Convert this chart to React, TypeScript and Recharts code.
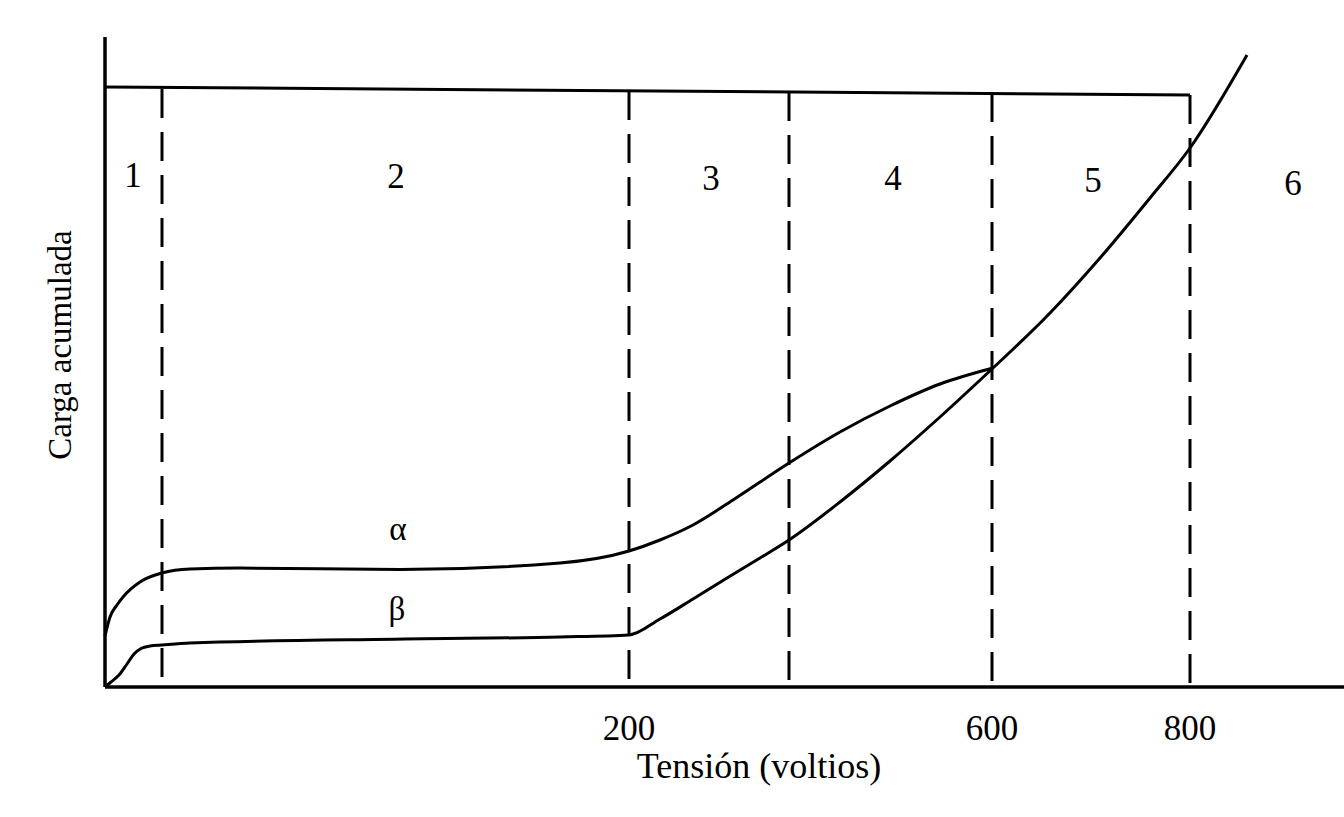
import { LineChart, Line, XAxis, YAxis, ReferenceLine, ReferenceDot } from 'recharts'

// schematic position units along the axis (not volts): the original axis isn't linear
const alphaPoints = [
  { x: 0, y: 5.1 }, { x: 0.5, y: 7.0 }, { x: 1.2, y: 8.2 }, { x: 1.8, y: 9.0 },
  { x: 3.5, y: 10.5 }, { x: 5.7, y: 11.4 }, { x: 8.5, y: 11.8 }, { x: 13.5, y: 11.9 },
  { x: 29.5, y: 11.75 }, { x: 45.5, y: 12.4 }, { x: 52.4, y: 13.6 }, { x: 55.5, y: 14.7 },
  { x: 58.8, y: 16.2 }, { x: 62.8, y: 18.7 }, { x: 68.4, y: 22.4 }, { x: 73.5, y: 25.5 },
  { x: 78.5, y: 28.1 }, { x: 83.5, y: 30.3 }, { x: 88.8, y: 31.9 },
]
const betaPoints = [
  { x: 0, y: 0 }, { x: 0.6, y: 0.5 }, { x: 1.4, y: 1.2 }, { x: 2.2, y: 2.3 },
  { x: 2.9, y: 3.3 }, { x: 3.6, y: 3.85 }, { x: 4.5, y: 4.1 }, { x: 5.7, y: 4.2 },
  { x: 8.5, y: 4.4 }, { x: 30, y: 4.8 }, { x: 45.5, y: 5.0 }, { x: 52.4, y: 5.2 },
  { x: 55.5, y: 6.8 }, { x: 58.8, y: 8.8 }, { x: 62.2, y: 10.9 }, { x: 65.5, y: 12.9 },
  { x: 68.4, y: 14.7 }, { x: 73.5, y: 18.5 }, { x: 78.5, y: 22.6 }, { x: 83.5, y: 27.0 },
  { x: 88.8, y: 31.9 },
]
// both curves merge above 600 V
const tailPoints = [
  { x: 88.8, y: 31.9 }, { x: 94.5, y: 37.4 }, { x: 99.5, y: 42.9 },
  { x: 104.5, y: 48.9 }, { x: 108.5, y: 53.9 }, { x: 114.2, y: 63.2 },
]

const boundaries = [5.7, 52.4, 68.4, 88.7, 108.5]
const boundaryTops = [59.8, 59.6, 59.5, 59.4, 59.2]
const tickPositions = [52.4, 88.7, 108.5]
const tickLabels = ['200', '600', '800']
const regionLabels = ['1', '2', '3', '4', '5', '6']
const regionX = [2.8, 29.1, 60.6, 78.8, 98.8, 118.8]
const regionY = [51.2, 51.1, 50.9, 50.9, 50.7, 50.4]
const curveNames = ['α', 'β']
const curveLabelX = [29.3, 29.2]
const curveLabelY = [15.9, 7.9]

const FONT = '"Liberation Serif", "Times New Roman", serif'

export default function App() {
  return (
    <div style={{ position: 'absolute', left: 0, top: 0, background: '#fff' }}>
      <LineChart
        width={1345}
        height={817}
        margin={{ top: 37, right: 0, bottom: 30, left: 45 }}
        style={{ fontFamily: FONT }}
      >
        <XAxis
          type="number"
          dataKey="x"
          domain={[0, 124]}
          ticks={tickPositions}
          tickFormatter={(v: number) => tickLabels[tickPositions.indexOf(v)] ?? ''}
          tickLine={false}
          tickSize={0}
          tickMargin={28}
          height={100}
          axisLine={{ stroke: '#000', strokeWidth: 3.5 }}
          tick={{ fill: '#000', fontSize: 35, fontFamily: FONT }}
          label={{
            content: (props: any) => {
              const vb = props.viewBox
              return (
                <text x={vb.x + vb.width / 2 + 34} y={vb.y + 91} textAnchor="middle"
                  fontSize={36} fontFamily={FONT} fill="#000">
                  Tensión (voltios)
                </text>
              )
            },
          }}
        />
        <YAxis
          type="number"
          domain={[0, 65]}
          width={60}
          tick={false}
          tickLine={false}
          axisLine={{ stroke: '#000', strokeWidth: 3.5 }}
          label={{
            content: (props: any) => {
              const vb = props.viewBox
              const cx = vb.x + vb.width - 42
              const cy = vb.y + vb.height / 2 - 17
              return (
                <text x={cx} y={cy} transform={`rotate(-90 ${cx} ${cy})`} textAnchor="middle"
                  dominantBaseline="middle" fontSize={33} fontFamily={FONT} fill="#000">
                  Carga acumulada
                </text>
              )
            },
          }}
        />

        <ReferenceLine
          segment={[{ x: 0, y: 60.0 }, { x: boundaries[4], y: 59.2 }]}
          stroke="#000"
          strokeWidth={3}
        />
        {boundaries.map((b, i) => (
          <ReferenceLine
            key={`b-${i}`}
            segment={[{ x: b, y: boundaryTops[i] }, { x: b, y: 0 }]}
            stroke="#000"
            strokeWidth={3}
            strokeDasharray="29 14"
          />
        ))}

        {regionLabels.map((r, i) => (
          <ReferenceDot key={`r-${i}`} x={regionX[i]} y={regionY[i]} r={0} stroke="none"
            label={{ value: r, position: 'center', fontSize: 35, fill: '#000', fontFamily: FONT }} />
        ))}
        {curveNames.map((n, i) => (
          <ReferenceDot key={`c-${i}`} x={curveLabelX[i]} y={curveLabelY[i]} r={0} stroke="none"
            label={{ value: n, position: 'center', fontSize: 33, fill: '#000', fontFamily: FONT }} />
        ))}

        <Line data={alphaPoints} dataKey="y" type="monotone" stroke="#000" strokeWidth={3}
          dot={false} activeDot={false} isAnimationActive={false} />
        <Line data={betaPoints} dataKey="y" type="monotone" stroke="#000" strokeWidth={3}
          dot={false} activeDot={false} isAnimationActive={false} />
        <Line data={tailPoints} dataKey="y" type="monotone" stroke="#000" strokeWidth={3}
          dot={false} activeDot={false} isAnimationActive={false} />
      </LineChart>
    </div>
  )
}
